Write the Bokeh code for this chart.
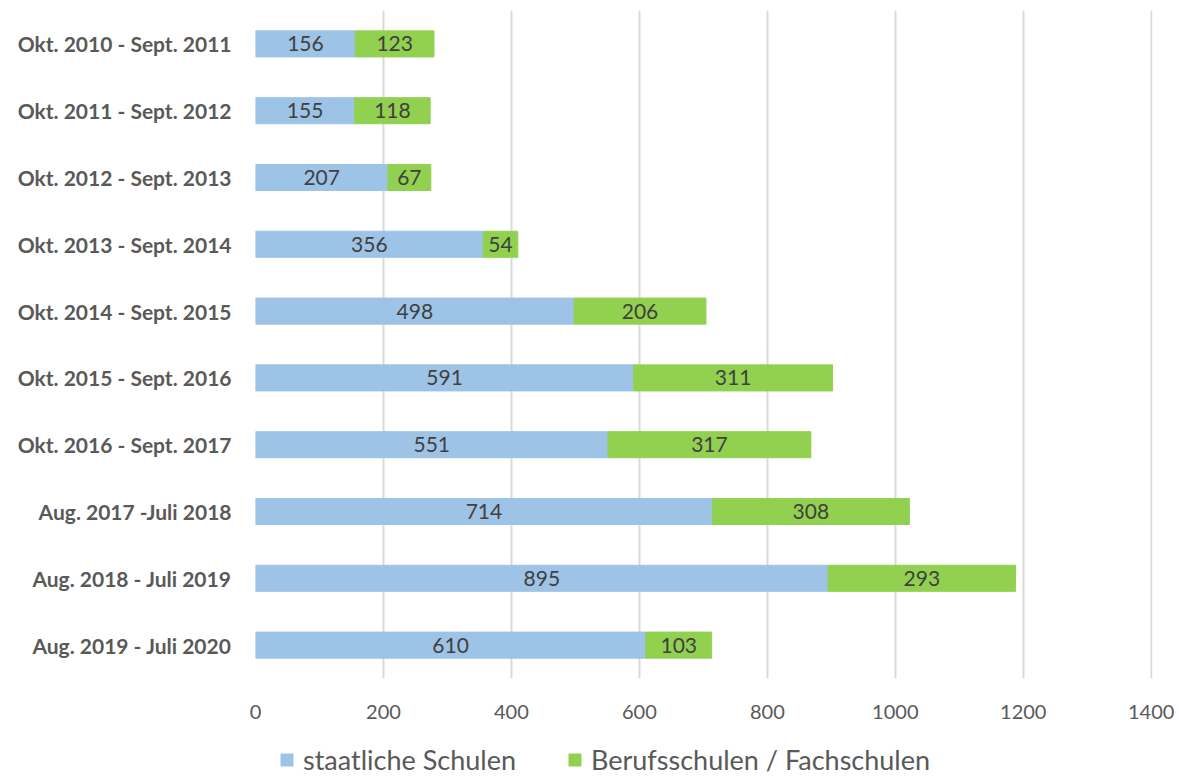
from bokeh.plotting import figure
from bokeh.layouts import column
from bokeh.models import ColumnDataSource, LabelSet, Legend, LegendItem, FactorRange, FixedTicker
from bokeh.core.properties import value
from bokeh.embed import file_html
from bokeh.resources import INLINE

# School years and counts per school type
periods = [
    "Okt. 2010 - Sept. 2011",
    "Okt. 2011 - Sept. 2012",
    "Okt. 2012 - Sept. 2013",
    "Okt. 2013 - Sept. 2014",
    "Okt. 2014 - Sept. 2015",
    "Okt. 2015 - Sept. 2016",
    "Okt. 2016 - Sept. 2017",
    "Aug. 2017 -Juli 2018",
    "Aug. 2018 - Juli 2019",
    "Aug. 2019 - Juli 2020",
]
staatliche = [156, 155, 207, 356, 498, 591, 551, 714, 895, 610]
berufs = [123, 118, 67, 54, 206, 311, 317, 308, 293, 103]
x_ticks = [0, 200, 400, 600, 800, 1000, 1200, 1400]
series_names = ["staatliche Schulen", "Berufsschulen / Fachschulen"]

BLUE = "#9dc3e6"
GREEN = "#92d050"
FONT = "Lato"

src = ColumnDataSource(dict(
    period=periods,
    s_end=staatliche,
    b_end=[a + c for a, c in zip(staatliche, berufs)],
    s_mid=[a / 2 for a in staatliche],
    b_mid=[a + c / 2 for a, c in zip(staatliche, berufs)],
    s_txt=[str(v) for v in staatliche],
    b_txt=[str(v) for v in berufs],
))

p = figure(
    width=1180, height=722,
    y_range=FactorRange(*reversed(periods), range_padding=0),
    x_range=(0, 1402),
    output_backend="svg", toolbar_location=None,
    min_border_left=255, min_border_right=28, min_border_top=10, min_border_bottom=44,
)
p.outline_line_color = None

p.hbar(y="period", left=0, right="s_end", height=0.39, color=BLUE, source=src)
p.hbar(y="period", left="s_end", right="b_end", height=0.39, color=GREEN, source=src)

for xcol, tcol in (("s_mid", "s_txt"), ("b_mid", "b_txt")):
    p.add_layout(LabelSet(
        x=xcol, y="period", text=tcol, source=src,
        text_align="center", text_baseline="middle",
        text_font=value(FONT), text_font_size="21px", text_color="#404040",
    ))

p.xgrid.ticker = FixedTicker(ticks=x_ticks)
p.xgrid.grid_line_color = "#d9d9d9"
p.xgrid.grid_line_width = 2
p.ygrid.grid_line_color = None

p.xaxis.ticker = FixedTicker(ticks=x_ticks)
p.xaxis.axis_line_color = None
p.xaxis.major_tick_line_color = None
p.xaxis.minor_tick_line_color = None
p.xaxis.major_label_text_font = FONT
p.xaxis.major_label_text_font_size = "20px"
p.xaxis.major_label_text_color = "#595959"
p.xaxis.major_label_standoff = 20

p.yaxis.axis_line_color = None
p.yaxis.major_tick_line_color = None
p.yaxis.major_label_text_font = FONT
p.yaxis.major_label_text_font_size = "21px"
p.yaxis.major_label_text_font_style = "bold"
p.yaxis.major_label_text_color = "#595959"
p.yaxis.major_label_standoff = 18

# Legend strip underneath the chart; its swatch renderers hold no visible data
leg = figure(
    width=1180, height=54, x_range=(0, 1), y_range=(0, 1),
    output_backend="svg", toolbar_location=None,
    min_border=0, outline_line_color=None,
)
leg.axis.visible = False
leg.grid.visible = False
nan = float("nan")
swatch = ColumnDataSource(dict(y=[nan], l=[nan], r=[nan]))
k1 = leg.hbar(y="y", left="l", right="r", height=1, color=BLUE, source=swatch)
k2 = leg.hbar(y="y", left="l", right="r", height=1, color=GREEN, source=swatch)

legend = Legend(
    items=[LegendItem(label=series_names[0], renderers=[k1]),
           LegendItem(label=series_names[1], renderers=[k2])],
    orientation="horizontal", location=(24, 0),
    label_text_font=FONT, label_text_font_size="27px", label_text_color="#595959",
    label_height=24, glyph_width=15, glyph_height=15, label_standoff=9, spacing=51,
    padding=0, margin=0, border_line_color=None, background_fill_alpha=0,
)
leg.add_layout(legend, "center")

open("out.html", "w").write(file_html(column(p, leg, spacing=0), INLINE))
